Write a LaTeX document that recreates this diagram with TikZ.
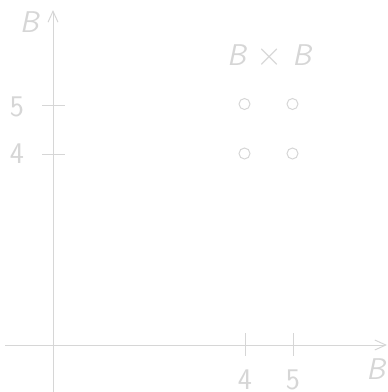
\documentclass[tikz,border=0pt]{standalone}
\usepackage{tikz}
\usepackage{xcolor}
\usetikzlibrary{positioning,arrows.meta}
\definecolor{axiscol}{HTML}{D6D6D6}

\begin{document}
\begin{tikzpicture}[
  x=1pt, y=-1pt,
  font=\fontsize{30}{36}\selectfont\sffamily,
  axis/.style={draw=axiscol, line width=1pt, -{Straight Barb[length=11pt,width=10pt]}},
  tick/.style={draw=axiscol, line width=1pt},
  lbl/.style={text=axiscol, inner sep=0pt},
  pt/.style={circle, draw=axiscol, line width=1pt, minimum size=11pt, inner sep=0pt},
]
\useasboundingbox (0,0) rectangle (388,392);

% ============================================================
% AXES
% ============================================================
\coordinate (xstart) at (5,345);
\coordinate (xend) at (387,345);
\coordinate (ystart) at (53,392);
\coordinate (yend) at (53,10);
\draw[axis] (xstart) -- (xend);
\draw[axis] (ystart) -- (yend);

\node[lbl] (xname) at (376.5,369) {\textit{B}};
\node[lbl] (yname) at (30,22.5) {\textit{B}};

% ticks on the horizontal axis
\coordinate (xa1) at (245,333); \coordinate (xa2) at (245,356);
\coordinate (xb1) at (293,333); \coordinate (xb2) at (293,356);
\draw[tick] (xa1) -- (xa2);
\draw[tick] (xb1) -- (xb2);
\node[lbl] (xfour) at (245,380) {4};
\node[lbl] (xfive) at (293,380) {5};

% ticks on the vertical axis
\coordinate (ya1) at (42,154); \coordinate (ya2) at (65,154);
\coordinate (yb1) at (42,105.5); \coordinate (yb2) at (65,105.5);
\draw[tick] (ya1) -- (ya2);
\draw[tick] (yb1) -- (yb2);
\node[lbl] (yfour) at (17,154) {4};
\node[lbl] (yfive) at (17,106.5) {5};

% ============================================================
% PRODUCT
% ============================================================
\node[lbl] (prod) at (270,56) {\textit{B} \scalebox{1.35}{$\times$} \textit{B}};

\node[pt] (p45) at (244.5,104) {};
\node[pt] (p55) at (292.5,104) {};
\node[pt] (p44) at (244.5,153.5) {};
\node[pt] (p54) at (292.5,153.5) {};

\end{tikzpicture}
\end{document}
